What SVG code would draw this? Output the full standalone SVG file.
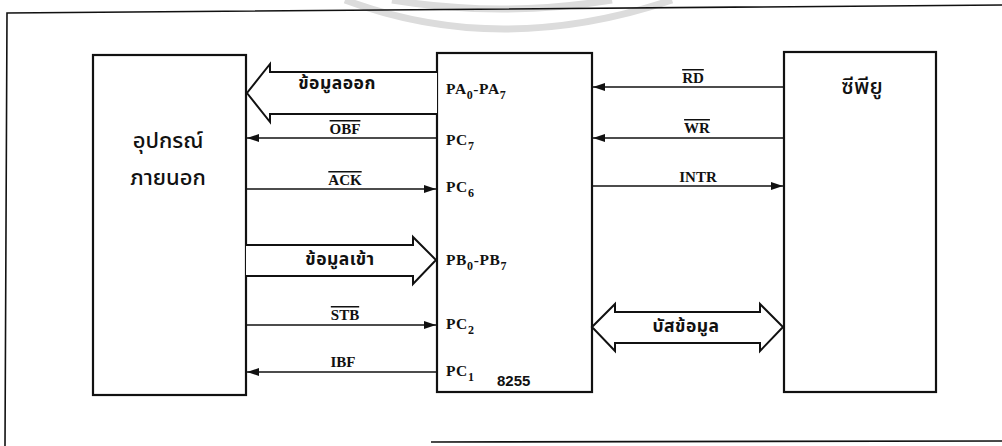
<svg xmlns="http://www.w3.org/2000/svg" width="1002" height="446" viewBox="0 0 1002 446">
  <defs>
    <marker id="ah" viewBox="0 0 12 8" refX="12" refY="4" markerWidth="12" markerHeight="8" markerUnits="userSpaceOnUse" orient="auto">
      <path d="M0,0 L12,4 L0,8 Z" fill="#111"/>
    </marker>
    <style>
      .box { fill: #fff; stroke: #111; stroke-width: 2.2; }
      .ln { fill: none; stroke: #111; stroke-width: 1.6; marker-end: url(#ah); }
      .fat { fill: #fff; stroke: #111; stroke-width: 2; stroke-linejoin: miter; }
      .frame { fill: none; stroke: #111; stroke-width: 1.6; }
      .wm { fill: none; stroke: #dcdcdc; stroke-width: 7; }
      .sig { font-family: "Liberation Serif", serif; font-weight: bold; font-size: 15px; fill: #111; text-anchor: middle; }
      .ov { text-decoration: overline; }
      .pin { font-family: "Liberation Serif", serif; font-weight: bold; font-size: 15.5px; fill: #111; letter-spacing: 0.6px; }
      .sub { font-size: 12px; }
      .th { font-family: "Noto Sans Thai", "Loma", "Garuda", "Tlwg Typo", "DejaVu Sans", sans-serif; font-weight: bold; font-size: 17.5px; fill: #111; text-anchor: middle; letter-spacing: 0.5px; }
      .thbig { font-family: "Noto Sans Thai", "Loma", "Garuda", "Tlwg Typo", "DejaVu Sans", sans-serif; font-weight: 500; font-size: 22px; fill: #111; text-anchor: middle; }
      .num { font-family: "Liberation Sans", sans-serif; font-weight: bold; font-size: 15px; fill: #111; }
    </style>
  </defs>

  <rect x="0" y="0" width="1002" height="446" fill="#fff"/>

  <!-- watermark arcs -->
  <path class="wm" d="M345,0 Q500,58 672,0"/>
  <path class="wm" d="M392,0 Q500,18 612,0"/>

  <!-- frame -->
  <g id="frame">
    <path class="frame" d="M1002,5 L7,13 L5,446"/>
    <path class="frame" d="M431,442 L1002,441"/>
  </g>

  <g id="external">
    <rect class="box" x="93" y="55" width="153" height="340"/>
    <text class="thbig" x="168" y="148">อุปกรณ์</text>
    <text class="thbig" x="168" y="185">ภายนอก</text>
  </g>

  <g id="ppi8255">
    <rect class="box" x="437" y="53" width="155" height="339"/>
    <text class="pin" x="446" y="94">PA<tspan class="sub" dy="5">0</tspan><tspan dy="-5">-PA</tspan><tspan class="sub" dy="5">7</tspan></text>
    <text class="pin" x="446" y="145">PC<tspan class="sub" dy="5">7</tspan></text>
    <text class="pin" x="446" y="192">PC<tspan class="sub" dy="5">6</tspan></text>
    <text class="pin" x="446" y="265">PB<tspan class="sub" dy="5">0</tspan><tspan dy="-5">-PB</tspan><tspan class="sub" dy="5">7</tspan></text>
    <text class="pin" x="446" y="329">PC<tspan class="sub" dy="5">2</tspan></text>
    <text class="pin" x="446" y="376">PC<tspan class="sub" dy="5">1</tspan></text>
    <text class="num" x="497" y="386">8255</text>
  </g>

  <g id="cpu">
    <rect class="box" x="784" y="52" width="152" height="340"/>
    <text class="thbig" x="862" y="94">ซีพียู</text>
  </g>

  <g id="connectors">
    <!-- data out (wide, left) -->
    <path class="fat" d="M437,72 L270,72 L270,64 L247,93 L270,122 L270,114 L437,114"/>
    <!-- data in (wide, right) -->
    <path class="fat" d="M246,245 L413,245 L413,237 L436,260 L413,284 L413,276 L246,276"/>
    <!-- data bus (double) -->
    <path class="fat" d="M592,327 L615,304 L615,312 L760,312 L760,304 L783,327 L760,351 L760,343 L615,343 L615,351 Z"/>

    <line class="ln" x1="437" y1="138" x2="247" y2="138"/>
    <line class="ln" x1="246" y1="189" x2="436" y2="189"/>
    <line class="ln" x1="246" y1="325" x2="436" y2="325"/>
    <line class="ln" x1="437" y1="372" x2="247" y2="372"/>

    <line class="ln" x1="784" y1="87" x2="593" y2="87"/>
    <line class="ln" x1="784" y1="138" x2="593" y2="138"/>
    <line class="ln" x1="592" y1="186" x2="783" y2="186"/>

    <text class="th" x="337" y="89">ข้อมูลออก</text>
    <text class="sig ov" x="345" y="134">OBF</text>
    <text class="sig ov" x="345" y="185">ACK</text>
    <text class="th" x="340" y="265">ข้อมูลเข้า</text>
    <text class="sig ov" x="345" y="320">STB</text>
    <text class="sig" x="343" y="367">IBF</text>

    <text class="sig ov" x="693" y="83">RD</text>
    <text class="sig ov" x="697" y="133">WR</text>
    <text class="sig" x="698" y="182">INTR</text>
    <text class="th" x="686" y="332">บัสข้อมูล</text>
  </g>
</svg>
